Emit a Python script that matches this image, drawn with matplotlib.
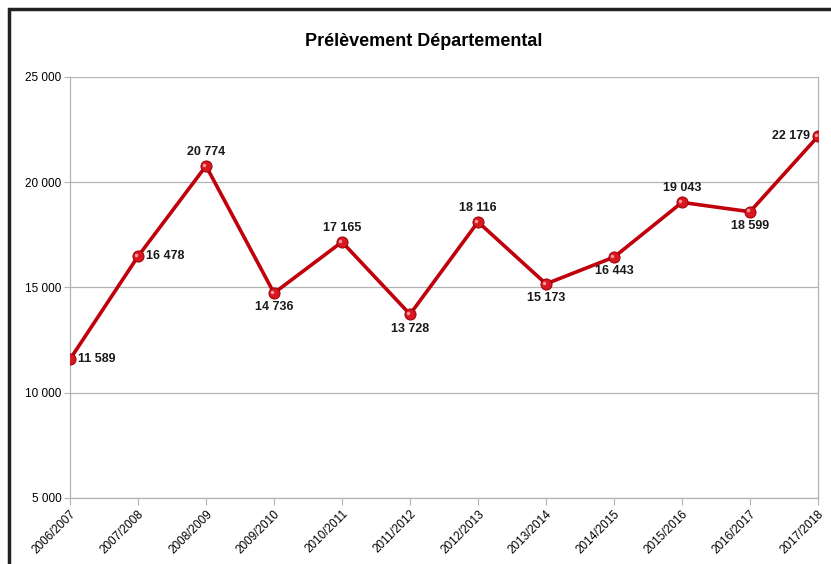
import numpy as np
import matplotlib
matplotlib.use('Agg')
import matplotlib.pyplot as plt
import matplotlib.ticker as mtick
from matplotlib.patches import Rectangle

plt.rcParams["font.family"] = ["Liberation Sans Narrow", "Liberation Sans", "DejaVu Sans"]

seasons = ["2006/2007", "2007/2008", "2008/2009", "2009/2010", "2010/2011", "2011/2012",
           "2012/2013", "2013/2014", "2014/2015", "2015/2016", "2016/2017", "2017/2018"]
values = [11589, 16478, 20774, 14736, 17165, 13728, 18116, 15173, 16443, 19043, 18599, 22179]
# where each data label sits relative to its point
label_pos = ["right", "right", "above", "below", "above", "below",
             "above", "below", "below", "above", "below", "left"]

def fmt(v, pos=None):
    return "{:,}".format(int(v)).replace(",", " ")

fig = plt.figure(figsize=(8.31, 5.64), dpi=100)
ax0 = fig.add_axes([70/831, 1-498/564, 748/831, 421/564])

x = np.arange(len(seasons))
ax0.plot(x, values, color="#c0000b", linewidth=2.6, solid_joinstyle="round", zorder=3)
ax0.plot(x, values, "o", color="#d81820", markersize=8, markeredgecolor="#9a0008",
         markeredgewidth=0.7, zorder=4)
ax0.plot(x - 0.025, np.array(values) + 60, "o", color="#ff9a9a", markersize=2.5,
         markeredgewidth=0, zorder=5)

offsets = {"right": (6, 0, "left", "center"), "left": (-6, 0, "right", "center"),
           "above": (0, 6, "center", "bottom"), "below": (0, -6, "center", "top")}
for xi, v, p in zip(x, values, label_pos):
    dx, dy, ha, va = offsets[p]
    ax0.annotate(fmt(v), (xi, v), xytext=(dx, dy), textcoords="offset points",
                 ha=ha, va=va, fontsize=9, fontweight="bold", color="#1a1a1a", zorder=6)

# Limits and labels
ax0.set_xlim(0, len(seasons) - 1)
ax0.set_ylim(5000, 25000)
ax0.set_yticks([5000, 10000, 15000, 20000, 25000])
ax0.yaxis.set_major_formatter(mtick.FuncFormatter(fmt))
ax0.set_xticks(x)
ax0.set_xticklabels(seasons, rotation=45, ha="right", rotation_mode="anchor", fontsize=8.5)
ax0.tick_params(axis="y", labelsize=8.5, length=4, color="#b3b3b3", pad=2)
ax0.tick_params(axis="x", length=5, color="#b3b3b3", pad=2)
ax0.grid(axis="y", color="#b3b3b3", linewidth=0.9)
ax0.set_axisbelow(True)
for s in ax0.spines.values():
    s.set_color("#b3b3b3")
    s.set_linewidth(0.9)
ax0.spines["top"].set_visible(False)

fig.text(424/831, 1-42/564, "Prélèvement Départemental", ha="center", va="center",
         fontsize=13, fontweight="bold")

# outer frame (cut at right/bottom like the screenshot)
fig.patches.append(Rectangle((9/831, -0.1), 1.2, 1 - 9/564 + 0.1, transform=fig.transFigure,
                             fill=False, edgecolor="#222222", linewidth=2.5))

plt.savefig("out.png", dpi=100)
plt.close()
